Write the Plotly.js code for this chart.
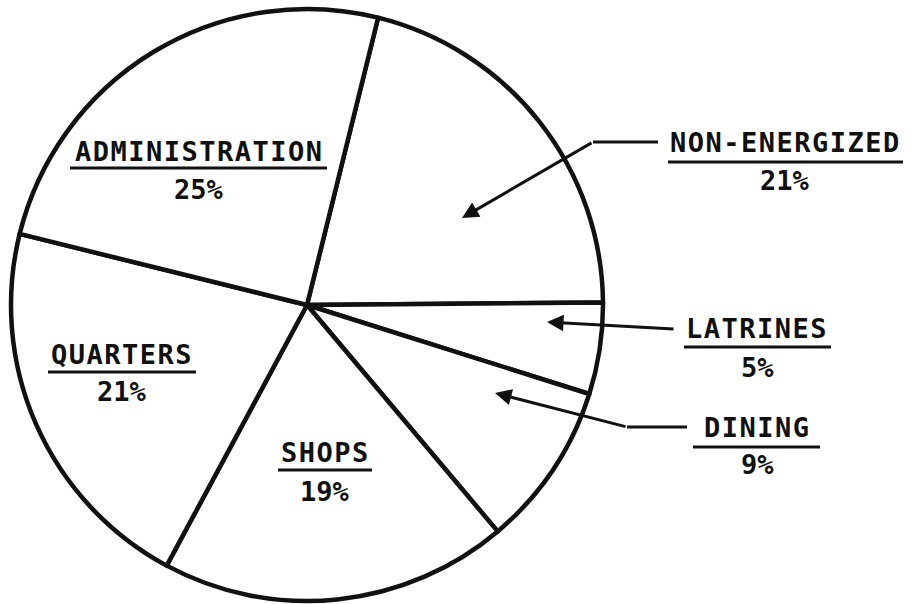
<!DOCTYPE html>
<html>
<head>
<meta charset="utf-8">
<script src="https://cdn.plot.ly/plotly-3.0.1.min.js"></script>
<style>html,body{margin:0;padding:0;background:#fff;}#chart{width:913px;height:604px;}</style>
</head>
<body>
<div id="chart"></div>
<script>
// Data (clockwise from the Administration / Non-energized boundary)
var categories = ['NON-ENERGIZED', 'LATRINES', 'DINING', 'SHOPS', 'QUARTERS', 'ADMINISTRATION'];
var values = [21, 5, 9, 19, 21, 25];

// Layout helpers (pixel -> paper)
var W = 913, H = 604;
function px(x) { return x / W; }
function py(y) { return 1 - y / H; }

var FONT = {family: 'DejaVu Sans Mono, monospace', size: 27, color: '#111', weight: 'bold'};
function spaced(t) { return '<span style="letter-spacing:1.5px">' + t + '</span>'; }

// label placement: [cx, nameY, pctY, underlineY, ulX0, ulX1]
var labelPos = {
  'NON-ENERGIZED': [785, 143, 181, 162, 668, 903],
  'LATRINES': [757, 328, 367, 347, 684, 831],
  'DINING': [757, 427, 464, 447, 693, 820],
  'SHOPS': [325, 452, 491, 470, 278, 372],
  'QUARTERS': [122, 354, 391, 372, 48, 196],
  'ADMINISTRATION': [199, 151, 190, 168, 70, 327]
};

var annotations = [];
var shapes = [];
categories.forEach(function (c, i) {
  var p = labelPos[c];
  annotations.push({xref: 'paper', yref: 'paper', x: px(p[0]), y: py(p[1]), text: spaced(c),
    showarrow: false, xanchor: 'center', yanchor: 'middle', font: FONT});
  annotations.push({xref: 'paper', yref: 'paper', x: px(p[0]), y: py(p[2]), text: values[i] + '%',
    showarrow: false, xanchor: 'center', yanchor: 'middle', font: FONT});
  shapes.push({type: 'line', xref: 'paper', yref: 'paper', x0: px(p[4]), x1: px(p[5]),
    y0: py(p[3]), y1: py(p[3]), line: {color: '#111', width: 3}});
});

// leader lines: horizontal segments
var leaders = [[593, 142, 658, 142], [627, 427, 687, 427]];
leaders.forEach(function (s) {
  shapes.push({type: 'line', xref: 'paper', yref: 'paper', x0: px(s[0]), y0: py(s[1]),
    x1: px(s[2]), y1: py(s[3]), line: {color: '#111', width: 3}});
});
// arrows: [tipX, tipY, tailX, tailY]
var arrows = [[462, 218, 593, 142], [547, 322, 675, 329], [495, 393, 627, 427]];
arrows.forEach(function (a) {
  annotations.push({xref: 'paper', yref: 'paper', x: px(a[0]), y: py(a[1]), text: '',
    showarrow: true, ax: a[2] - a[0], ay: a[3] - a[1], arrowhead: 2, arrowsize: 1.1,
    arrowwidth: 3, arrowcolor: '#111', standoff: 0, startstandoff: 0});
});

var trace = {
  type: 'pie',
  labels: categories,
  values: values,
  sort: false,
  direction: 'clockwise',
  rotation: 13.9,
  textinfo: 'none',
  hoverinfo: 'skip',
  showlegend: false,
  marker: {colors: categories.map(function () { return '#ffffff'; }), line: {color: '#111', width: 4.5}},
  domain: {x: [px(11), px(603)], y: [py(601), py(9)]}
};

var layout = {
  width: W, height: H,
  margin: {l: 0, r: 0, t: 0, b: 0},
  paper_bgcolor: '#fff',
  plot_bgcolor: '#fff',
  annotations: annotations,
  shapes: shapes
};

Plotly.newPlot('chart', [trace], layout, {displayModeBar: false, staticPlot: true});
</script>
</body>
</html>
